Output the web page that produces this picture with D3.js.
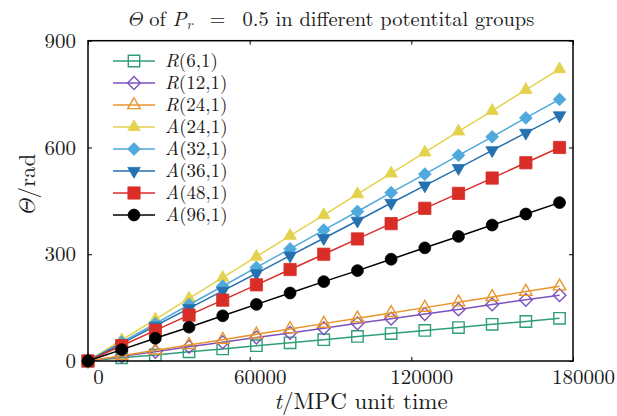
<!DOCTYPE html>
<html>
<head>
<meta charset="utf-8">
<script src="https://cdn.jsdelivr.net/npm/d3@7"></script>
<style>
  body { margin: 0; background: #fff; }
</style>
</head>
<body>
<svg id="chart" width="617" height="416"></svg>
<script>
// Simulation time (MPC unit time) at each sample
const timeSteps = [0, 12500, 25000, 37500, 50000, 62500, 75000, 87500,
                   100000, 112500, 125000, 137500, 150000, 162500, 175000];

// Rotation angle Θ (rad) per potential group
const thetaR6  = [0, 9, 17, 26, 34, 43, 51, 60, 69, 77, 86, 94, 103, 111, 120];
const thetaR12 = [0, 13, 26, 40, 53, 66, 79, 92, 106, 119, 132, 145, 159, 172, 185];
const thetaR24 = [0, 15, 30, 45, 60, 75, 90, 105, 120, 135, 150, 165, 180, 195, 210];
const thetaA24 = [0, 59, 117, 176, 234, 293, 352, 410, 469, 527, 586, 645, 703, 762, 820];
const thetaA32 = [0, 53, 105, 158, 210, 263, 315, 368, 420, 473, 525, 578, 630, 683, 735];
const thetaA36 = [0, 49, 99, 148, 197, 246, 296, 345, 394, 444, 493, 542, 592, 641, 690];
const thetaA48 = [0, 43, 86, 129, 171, 214, 257, 300, 343, 386, 429, 471, 514, 557, 600];
const thetaA96 = [0, 32, 64, 95, 127, 159, 191, 223, 254, 286, 318, 350, 382, 413, 445];

// Legend labels: italic letter + upright argument
const seriesLetters = ["R", "R", "R", "A", "A", "A", "A", "A"];
const seriesArgs = ["(6,1)", "(12,1)", "(24,1)", "(24,1)", "(32,1)", "(36,1)", "(48,1)", "(96,1)"];
const seriesValues = [thetaR6, thetaR12, thetaR24, thetaA24, thetaA32, thetaA36, thetaA48, thetaA96];

const xTickValues = [0, 60000, 120000, 180000];
const yTickValues = [0, 300, 600, 900];

// Marker styles
const seriesColors = ["#2f9e78", "#7d52bd", "#e8952d", "#e3d24e", "#4fa9dc", "#2571b0", "#d92d27", "#000000"];
const seriesShapes = ["square", "diamond", "triangle", "triangle", "diamond", "triangleDown", "square", "circle"];
const seriesHollow = [true, true, true, false, false, false, false, false];

const FONT = '"Latin Modern Roman", "Liberation Serif", serif';
const TEXT_COLOR = "#1a1a1a";

const svg = d3.select("#chart");
svg.append("rect").attr("width", 617).attr("height", 416).attr("fill", "#fff");

const plot = { left: 88, right: 573, top: 40.7, bottom: 361 };

const x = d3.scaleLinear().domain([0, 180000]).range([plot.left, plot.right]);
const y = d3.scaleLinear().domain([0, 900]).range([plot.bottom, plot.top]);

// Axes: inward ticks on all four sides
const gx = svg.append("g").attr("transform", `translate(0,${plot.bottom})`)
  .call(d3.axisBottom(x).tickValues(xTickValues).tickFormat(d3.format("d"))
    .tickSizeInner(-4).tickSizeOuter(0).tickPadding(8));
gx.selectAll(".tick text").attr("dx", 10);
const gxTop = svg.append("g").attr("transform", `translate(0,${plot.top})`)
  .call(d3.axisTop(x).tickValues(xTickValues).tickFormat("")
    .tickSizeInner(-4).tickSizeOuter(0));
const gy = svg.append("g").attr("transform", `translate(${plot.left},0)`)
  .call(d3.axisLeft(y).tickValues(yTickValues).tickFormat(d3.format("d"))
    .tickSizeInner(-4).tickSizeOuter(0).tickPadding(12));
const gyRight = svg.append("g").attr("transform", `translate(${plot.right},0)`)
  .call(d3.axisRight(y).tickValues(yTickValues).tickFormat("")
    .tickSizeInner(-4).tickSizeOuter(0));

[gx, gxTop, gy, gyRight].forEach(g => {
  g.attr("font-family", null).attr("font-size", null);
  g.select(".domain").remove();
  g.selectAll(".tick line").attr("stroke", "#000").attr("stroke-width", 1);
  g.selectAll(".tick text")
    .attr("fill", TEXT_COLOR)
    .style("font-family", FONT)
    .style("font-size", "21px");
});

// Marker shapes
const shapePath = {
  square: d3.symbol().type(d3.symbolSquare).size(130)(),
  squareFilled: d3.symbol().type(d3.symbolSquare).size(150)(),
  diamond: d3.symbol().type(d3.symbolSquare).size(82)(),
  triangle: d3.symbol().type(d3.symbolTriangle).size(68)(),
  triangleDown: d3.symbol().type(d3.symbolTriangle).size(68)(),
  circle: d3.symbol().type(d3.symbolCircle).size(110)()
};
function markerPath(shape, hollow) {
  if (shape === "square" && !hollow) return shapePath.squareFilled;
  return shapePath[shape];
}
function markerRotation(shape) {
  if (shape === "diamond") return 45;
  if (shape === "triangleDown") return 180;
  return 0;
}
function drawMarker(g, cx, cy, i) {
  const shape = seriesShapes[i];
  const hollow = seriesHollow[i];
  g.append("path")
    .attr("d", markerPath(shape, hollow))
    .attr("transform", `translate(${cx},${cy}) rotate(${markerRotation(shape)})`)
    .attr("fill", hollow ? "none" : seriesColors[i])
    .attr("stroke", seriesColors[i])
    .attr("stroke-width", hollow ? 1.4 : 0.8);
}

const line = d3.line().x(d => x(d[0])).y(d => y(d[1]));

const seriesLayer = svg.append("g");
seriesValues.forEach((vals, i) => {
  const pts = timeSteps.map((t, k) => [t, vals[k]]);
  const g = seriesLayer.append("g");
  g.append("path")
    .attr("d", line(pts))
    .attr("fill", "none")
    .attr("stroke", seriesColors[i])
    .attr("stroke-width", 1.5);
  pts.forEach(p => drawMarker(g, x(p[0]), y(p[1]), i));
});

// Frame
svg.append("rect")
  .attr("x", plot.left).attr("y", plot.top)
  .attr("width", plot.right - plot.left).attr("height", plot.bottom - plot.top)
  .attr("fill", "none").attr("stroke", "#000").attr("stroke-width", 1.5);

function styledText(sel, size) {
  return sel.style("font-family", FONT).style("font-size", size).attr("fill", TEXT_COLOR);
}

// Legend
const legend = svg.append("g");
seriesLetters.forEach((letter, i) => {
  const ly = 61 + 22 * i;
  const row = legend.append("g");
  row.append("line").attr("x1", 113).attr("x2", 155).attr("y1", ly).attr("y2", ly)
    .attr("stroke", seriesColors[i]).attr("stroke-width", 1.5);
  drawMarker(row, 134, ly, i);
  const t = styledText(row.append("text").attr("x", 165).attr("y", ly).attr("dy", "0.34em"), "19px");
  t.append("tspan").attr("font-style", "italic").text(letter);
  t.append("tspan").text(seriesArgs[i]);
});

// Title
const title = styledText(svg.append("text").attr("x", (plot.left + plot.right) / 2).attr("y", 26)
  .attr("text-anchor", "middle"), "20.5px");
title.append("tspan").attr("font-style", "italic").text("Θ");
title.append("tspan").text(" of ");
title.append("tspan").attr("font-style", "italic").text("P");
title.append("tspan").attr("font-style", "italic").attr("font-size", "14px").attr("dy", 3).text("r");
title.append("tspan").attr("dy", -3).text("\u00a0 = \u00a00.5 in different potentital groups");

// Axis titles
const xTitle = styledText(svg.append("text").attr("x", 361).attr("y", 409)
  .attr("text-anchor", "middle"), "23px");
xTitle.append("tspan").attr("font-style", "italic").text("t");
xTitle.append("tspan").text("/MPC unit time");

const yTitle = styledText(svg.append("text")
  .attr("transform", `translate(35,185) rotate(-90)`)
  .attr("text-anchor", "middle"), "23px");
yTitle.append("tspan").attr("font-style", "italic").text("Θ");
yTitle.append("tspan").text("/rad");
</script>
</body>
</html>
